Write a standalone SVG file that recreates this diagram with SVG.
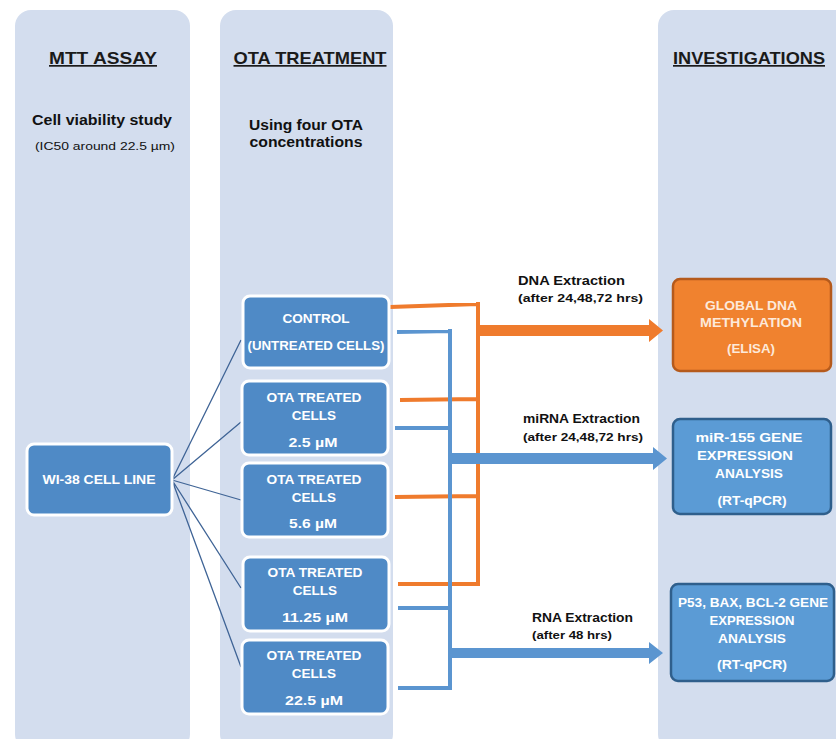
<svg xmlns="http://www.w3.org/2000/svg" width="836" height="739" viewBox="0 0 836 739">
<style>
.panel{fill:#d3ddee}
.title{font-family:"Liberation Sans",Arial,sans-serif;font-weight:bold;font-size:17px;fill:#1a1a1a;text-anchor:middle;text-decoration:underline}
.sub{font-family:"Liberation Sans",Arial,sans-serif;font-weight:bold;fill:#111;text-anchor:middle}
.lbl{font-family:"Liberation Sans",Arial,sans-serif;font-weight:bold;fill:#111}
.cell{fill:#4f8ac6;stroke:#ffffff;stroke-width:3}
.ct{font-family:"Liberation Sans",Arial,sans-serif;font-weight:bold;font-size:13.5px;fill:#ffffff;text-anchor:middle}
.fan{stroke:#3f6496;stroke-width:1.3;fill:none}
.or{stroke:#ef7b2d;stroke-width:4;fill:none}
.bl{stroke:#5b95d0;stroke-width:4;fill:none}
</style>
<rect class="panel" x="15" y="10" width="175" height="740" rx="16"/>
<rect class="panel" x="220" y="10" width="173" height="740" rx="16"/>
<rect class="panel" x="658" y="10" width="200" height="740" rx="16"/>

<text class="title" x="103" y="64" textLength="108" lengthAdjust="spacingAndGlyphs">MTT  ASSAY</text>
<text class="title" x="310" y="64" textLength="153" lengthAdjust="spacingAndGlyphs">OTA TREATMENT</text>
<text class="title" x="749" y="64" textLength="152" lengthAdjust="spacingAndGlyphs">INVESTIGATIONS</text>
<text class="sub" x="102" y="125" font-size="14" textLength="140" lengthAdjust="spacingAndGlyphs">Cell viability study</text>
<text class="sub" x="105" y="150" font-size="11.5" style="font-weight:normal" textLength="140" lengthAdjust="spacingAndGlyphs">(IC50 around 22.5 µm)</text>
<text class="sub" x="306" y="130" font-size="14" textLength="114" lengthAdjust="spacingAndGlyphs">Using four OTA</text>
<text class="sub" x="306" y="147" font-size="14" textLength="113" lengthAdjust="spacingAndGlyphs">concentrations</text>

<g id="connectors">
<path class="fan" d="M172 480 L241 340 M172 480 L241 422 M172 480 L241 500 M172 480 L241 588 M172 480 L241 667"/>
<path class="or" d="M390 307 L478 304 M400 400 L478 399 M395 497 L478 496 M398 584 L478 584 M478 302 L478 586"/>
<path class="bl" d="M397 332 L450 331 M395 428 L450 428 M398 608 L450 608 M398 688 L450 688 M450 329 L450 690"/>
<path d="M478 325 L649 325 L649 319 L663 330.5 L649 342 L649 336 L478 336 Z" fill="#ef7b2d"/>
<path d="M450 453 L653 453 L653 447 L667 458.5 L653 470 L653 464 L450 464 Z" fill="#5b95d0"/>
<path d="M450 648 L649 648 L649 642 L663 653 L649 664 L649 658 L450 658 Z" fill="#5b95d0"/>
</g>

<text class="lbl" x="518" y="285" font-size="13" textLength="107" lengthAdjust="spacingAndGlyphs">DNA Extraction</text>
<text class="lbl" x="518" y="302" font-size="11.5" textLength="125" lengthAdjust="spacingAndGlyphs">(after  24,48,72 hrs)</text>
<text class="lbl" x="523" y="423" font-size="13" textLength="117" lengthAdjust="spacingAndGlyphs">miRNA Extraction</text>
<text class="lbl" x="523" y="441" font-size="11.5" textLength="120" lengthAdjust="spacingAndGlyphs">(after 24,48,72 hrs)</text>
<text class="lbl" x="532" y="622" font-size="13" textLength="101" lengthAdjust="spacingAndGlyphs">RNA Extraction</text>
<text class="lbl" x="532" y="639" font-size="11.5" textLength="80" lengthAdjust="spacingAndGlyphs">(after 48 hrs)</text>

<g id="wi38">
<rect class="cell" x="27" y="444" width="145" height="71" rx="7"/>
<text class="ct" x="99" y="484" textLength="113" lengthAdjust="spacingAndGlyphs">WI-38 CELL LINE</text>
</g>
<g id="control">
<rect class="cell" x="243" y="296" width="146" height="72" rx="7"/>
<text class="ct" x="316" y="323" textLength="67" lengthAdjust="spacingAndGlyphs">CONTROL</text>
<text class="ct" x="316" y="350" textLength="137" lengthAdjust="spacingAndGlyphs">(UNTREATED CELLS)</text>
</g>
<g id="ota25">
<rect class="cell" x="242" y="381" width="146" height="74" rx="7"/>
<text class="ct" x="314" y="402" textLength="95" lengthAdjust="spacingAndGlyphs">OTA TREATED</text>
<text class="ct" x="314" y="420">CELLS</text>
<text class="ct" x="313" y="447" textLength="49" lengthAdjust="spacingAndGlyphs">2.5 µM</text>
</g>
<g id="ota56">
<rect class="cell" x="242" y="463" width="146" height="74" rx="7"/>
<text class="ct" x="314" y="484" textLength="95" lengthAdjust="spacingAndGlyphs">OTA TREATED</text>
<text class="ct" x="314" y="502">CELLS</text>
<text class="ct" x="313" y="528" textLength="48" lengthAdjust="spacingAndGlyphs">5.6 µM</text>
</g>
<g id="ota1125">
<rect class="cell" x="243" y="557" width="146" height="74" rx="7"/>
<text class="ct" x="315" y="577" textLength="95" lengthAdjust="spacingAndGlyphs">OTA TREATED</text>
<text class="ct" x="315" y="595">CELLS</text>
<text class="ct" x="315" y="622" textLength="66" lengthAdjust="spacingAndGlyphs">11.25 µM</text>
</g>
<g id="ota225">
<rect class="cell" x="242" y="640" width="146" height="74" rx="7"/>
<text class="ct" x="314" y="660" textLength="95" lengthAdjust="spacingAndGlyphs">OTA TREATED</text>
<text class="ct" x="314" y="678">CELLS</text>
<text class="ct" x="314" y="705" textLength="58" lengthAdjust="spacingAndGlyphs">22.5 µM</text>
</g>
<g id="dnameth">
<rect x="673" y="279" width="158" height="92" rx="7" fill="#f0822f" stroke="#b55a1c" stroke-width="2.5"/>
<text class="ct" x="751" y="310" style="fill:#fde9da" textLength="92" lengthAdjust="spacingAndGlyphs">GLOBAL DNA</text>
<text class="ct" x="751" y="327" style="fill:#fde9da" textLength="102" lengthAdjust="spacingAndGlyphs">METHYLATION</text>
<text class="ct" x="751" y="353" style="fill:#fde9da" textLength="48" lengthAdjust="spacingAndGlyphs">(ELISA)</text>
</g>
<g id="mir155">
<rect x="673" y="419" width="158" height="95" rx="7" fill="#5b9bd5" stroke="#2f5f8c" stroke-width="2.5"/>
<text class="ct" x="749" y="442" textLength="107" lengthAdjust="spacingAndGlyphs">miR-155 GENE</text>
<text class="ct" x="745" y="460" textLength="96" lengthAdjust="spacingAndGlyphs">EXPRESSION</text>
<text class="ct" x="749" y="478" textLength="68" lengthAdjust="spacingAndGlyphs">ANALYSIS</text>
<text class="ct" x="752" y="505" textLength="69" lengthAdjust="spacingAndGlyphs">(RT-qPCR)</text>
</g>
<g id="p53">
<rect x="671" y="584" width="163" height="97" rx="7" fill="#5b9bd5" stroke="#2f5f8c" stroke-width="2.5"/>
<text class="ct" x="753" y="607" textLength="150" lengthAdjust="spacingAndGlyphs">P53, BAX, BCL-2 GENE</text>
<text class="ct" x="752" y="625" textLength="85" lengthAdjust="spacingAndGlyphs">EXPRESSION</text>
<text class="ct" x="752" y="643" textLength="68" lengthAdjust="spacingAndGlyphs">ANALYSIS</text>
<text class="ct" x="752" y="669" textLength="70" lengthAdjust="spacingAndGlyphs">(RT-qPCR)</text>
</g>
</svg>
